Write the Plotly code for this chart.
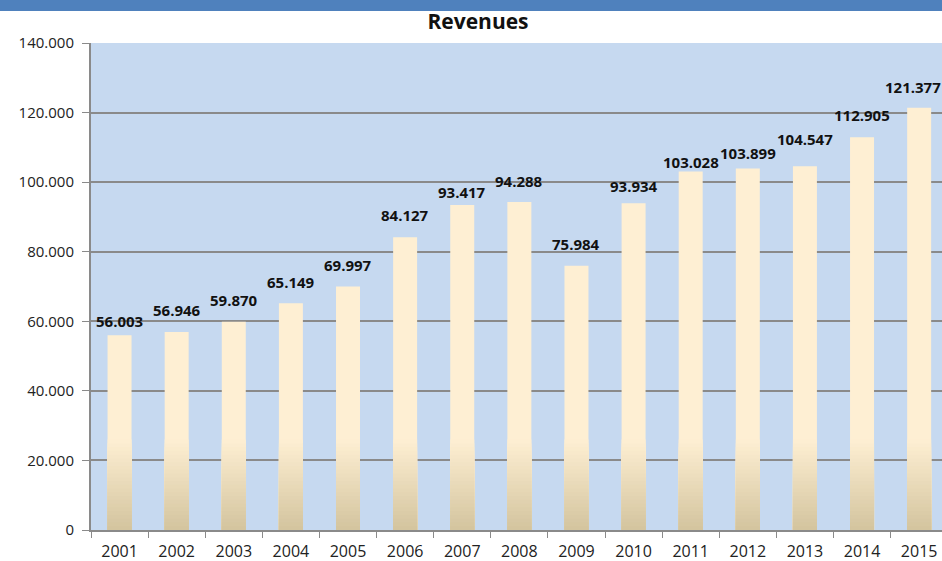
import plotly.graph_objects as go

years = ["2001", "2002", "2003", "2004", "2005", "2006", "2007", "2008",
         "2009", "2010", "2011", "2012", "2013", "2014", "2015"]
revenues = [56003, 56946, 59870, 65149, 69997, 84127, 93417, 94288,
            75984, 93934, 103028, 103899, 104547, 112905, 121377]
# pixel offsets of the data labels relative to the bar tops (style only)
label_shift = [14, 22, 22, 21, 22, 22, 13, 21, 22, 17, 10, 16, 27, 22, 21]
label_xshift = [0, 0, 0, 0, 0, 0, 0, 0, 0, 0, 0, 0, 0, 0, -6]

y_ticks = [0, 20000, 40000, 60000, 80000, 100000, 120000, 140000]

def fmt(v):
    return f"{v:,}".replace(",", ".")

BAR_W = 0.42
TOP_C = (254, 239, 211)
BOT_C = (211, 196, 158)
GRAD_TOP = 26000
N = 24

fig = go.Figure()
fig.add_trace(go.Bar(x=years, y=revenues, width=BAR_W,
                     marker=dict(color="rgb(%d,%d,%d)" % TOP_C, line=dict(width=0)),
                     hoverinfo="skip", showlegend=False))
step = GRAD_TOP / N
for k in range(N - 1, -1, -1):
    hi = (k + 1) * step
    t = (k + 0.5) / N
    c = tuple(round(BOT_C[i] + (TOP_C[i] - BOT_C[i]) * t) for i in range(3))
    hs = [min(v, hi) for v in revenues]
    fig.add_trace(go.Bar(x=years, y=hs, width=BAR_W,
                         marker=dict(color="rgb(%d,%d,%d)" % c, line=dict(width=0)),
                         hoverinfo="skip", showlegend=False))

for i, (v, s, xs) in enumerate(zip(revenues, label_shift, label_xshift)):
    fig.add_annotation(x=i, y=v, xref="x", yref="y",
                       text="<b>" + fmt(v) + "</b>", showarrow=False,
                       yanchor="middle", yshift=s, xshift=xs,
                       font=dict(family="Open Sans", size=15, color="#111111"))

fig.add_shape(type="rect", xref="paper", yref="paper", x0=-0.2, x1=1.1,
              y0=1.0 + (43 - 11) / 487, y1=1.2, fillcolor="#4F81BD",
              line=dict(width=0), layer="above")

fig.update_layout(
    width=942, height=561,
    margin=dict(l=91, r=0, t=43, b=31),
    paper_bgcolor="white", plot_bgcolor="#C6D9F0",
    barmode="overlay",
    title=dict(text="<b>Revenues</b>", x=478 / 942, xanchor="center",
               y=1 - 22 / 561, yanchor="middle",
               font=dict(family="Open Sans", size=21, color="#111111")),
    xaxis=dict(type="category", range=[-0.5, 14.4], showgrid=False, showline=True,
               linecolor="#8A8A8A", linewidth=2, ticks="outside",
               tickson="boundaries", ticklen=6, tickcolor="#8A8A8A", tickwidth=1,
               ticklabelstandoff=6,
               tickfont=dict(family="Open Sans", size=16, color="#222222")),
    yaxis=dict(range=[0, 140000], tickvals=y_ticks,
               ticktext=[fmt(v) for v in y_ticks], showgrid=True,
               gridcolor="#8A8A8A", gridwidth=2, showline=True,
               linecolor="#8A8A8A", linewidth=2, ticks="outside", ticklen=7,
               tickcolor="#8A8A8A", tickwidth=1, zeroline=False,
               ticklabelstandoff=5,
               tickfont=dict(family="Open Sans", size=15, color="#222222")),
)

fig.write_html("out.html", config={"displayModeBar": False},
               post_script="document.body.style.margin='0';document.body.style.overflow='hidden';")
